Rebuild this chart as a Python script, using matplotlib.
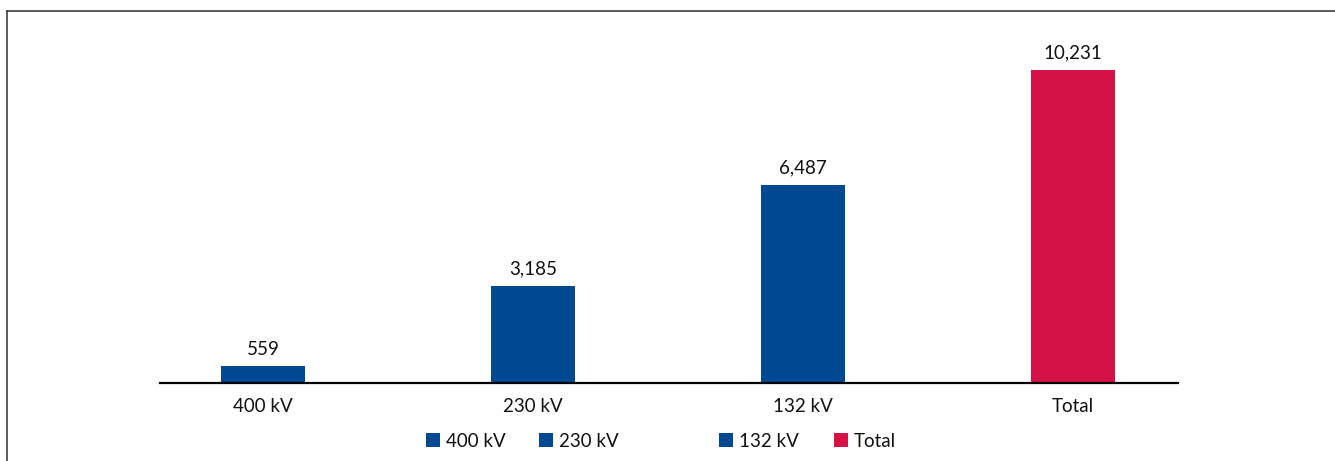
import matplotlib
matplotlib.use("Agg")
import matplotlib.pyplot as plt
from matplotlib.patches import Patch
from matplotlib.lines import Line2D

plt.rcParams['font.family'] = ['Lato', 'DejaVu Sans']

categories = ["400 kV", "230 kV", "132 kV", "Total"]
values = [559, 3185, 6487, 10231]
value_labels = ["559", "3,185", "6,487", "10,231"]
blue = "#004990"
red = "#D41245"
colors = [blue, blue, blue, red]

W, H = 1335, 461
fig = plt.figure(figsize=(W / 100, H / 100), dpi=100)

ax_left, ax_right = 160, 1178
ax_bottom, ax_top = 383, 20
ax = fig.add_axes([ax_left / W, 1 - ax_bottom / H,
                   (ax_right - ax_left) / W, (ax_bottom - ax_top) / H])

x = list(range(len(categories)))
ax.bar(x, values, width=0.31, color=colors, zorder=2)

ymax = values[-1] * (ax_bottom - ax_top) / (ax_bottom - 70)
ax.set_ylim(0, ymax)
ax.set_xlim(-0.381, 3.389)

for xi, v, lab in zip(x, values, value_labels):
    ax.annotate(lab, (xi, v), xytext=(0, 6), textcoords="offset points",
                ha="center", va="bottom", fontsize=13.5, color="#111111")

for s in ["top", "right", "left"]:
    ax.spines[s].set_visible(False)
ax.spines["bottom"].set_linewidth(1.6)
ax.spines["bottom"].set_color("black")
ax.set_yticks([])
ax.set_xticks(x)
ax.set_xticklabels(categories, fontsize=13.5, color="#111111")
ax.tick_params(axis="x", length=0, pad=11)

# legend entries placed individually along the bottom
legend_x = [426, 539, 719, 834]
for cx, name, c in zip(legend_x, categories, colors):
    lg = fig.legend(handles=[Patch(facecolor=c, edgecolor="none")], labels=[name],
                    loc="center left", bbox_to_anchor=(cx / W, 1 - 441 / H),
                    frameon=False, fontsize=13.5, handlelength=0.75, handleheight=0.75,
                    handletextpad=0.3, borderpad=0, borderaxespad=0)
    for t in lg.get_texts():
        t.set_color("#111111")

# frame lines at the left and top of the figure
fig.add_artist(Line2D([6.5 / W, 6.5 / W], [0, 1 - 11.5 / H], transform=fig.transFigure,
                      color="#404040", linewidth=1.2))
fig.add_artist(Line2D([6.5 / W, 1], [1 - 11.5 / H, 1 - 11.5 / H], transform=fig.transFigure,
                      color="#404040", linewidth=1.2))

fig.savefig("out.png", dpi=100)
